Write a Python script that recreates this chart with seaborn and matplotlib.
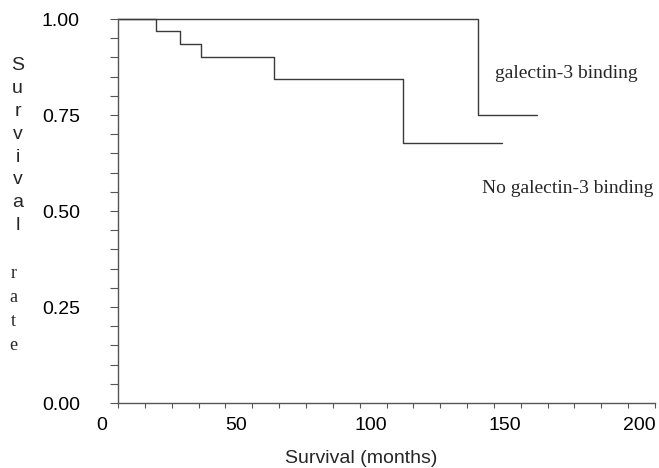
import numpy as np
import pandas as pd
import matplotlib
matplotlib.use("Agg")
import matplotlib.pyplot as plt
import matplotlib.transforms as mtransforms
import seaborn as sns

# values
binding_months = [0, 134, 156]
binding_surv = [1.0, 0.75, 0.75]
nobinding_months = [0, 14, 23, 31, 58, 106, 143]
nobinding_surv = [1.0, 0.968, 0.935, 0.901, 0.845, 0.676, 0.676]
group_names = ["galectin-3 binding", "No galectin-3 binding"]
x_ticks = [0, 50, 100, 150, 200]
y_ticks = [0.00, 0.25, 0.50, 0.75, 1.00]
y_ticklabels = ["0.00", "0.25", "0.50", "0.75", "1.00"]

df = pd.concat([
    pd.DataFrame({"months": binding_months, "surv": binding_surv, "group": group_names[0]}),
    pd.DataFrame({"months": nobinding_months, "surv": nobinding_surv, "group": group_names[1]}),
], ignore_index=True)

sns.set_style("white")
plt.rcParams["font.family"] = ["Liberation Sans", "DejaVu Sans"]

W, H = 659, 468
fig = plt.figure(figsize=(W / 100, H / 100), dpi=100)
ax = fig.add_axes([118 / W, 1 - 403 / H, (655 - 118) / W, (403 - 19) / H])

line_col = "#3a3a3a"
sns.lineplot(
    data=df, x="months", y="surv", hue="group", estimator=None,
    drawstyle="steps-post", palette=[line_col, line_col], legend=False,
    lw=1.0, clip_on=False, ax=ax,
)

ax.set_xlim(0, 200)
ax.set_ylim(0, 1)
ax.set_xticks(x_ticks)
ax.set_xticks(np.arange(0, 201, 10), minor=True)
ax.set_yticks(y_ticks)
ax.set_yticks(np.arange(0, 1.001, 0.05), minor=True)
ax.set_yticklabels(y_ticklabels)
ax.set_xlabel("")
ax.set_ylabel("")

spine_col = "#555555"
sns.despine(ax=ax)
for s in ["left", "bottom"]:
    ax.spines[s].set_color(spine_col)
    ax.spines[s].set_linewidth(1.0)

ax.tick_params(axis="y", which="both", direction="out", left=True, length=5.8,
               width=0.8, color=spine_col, pad=21.6, labelsize=14, labelcolor="black")
ax.tick_params(axis="x", which="both", direction="out", bottom=True, length=3.6,
               width=0.8, color=spine_col, pad=6.5, labelsize=14, labelcolor="black")

# x tick labels sit a little left of their ticks in the original
shift = mtransforms.ScaledTranslation(-16 / 100, 0, fig.dpi_scale_trans)
for tick in ax.xaxis.get_major_ticks():
    tick.label1.set_transform(tick.label1.get_transform() + shift)

# curve labels
serif = ["Liberation Serif", "DejaVu Serif"]
fig.text(495 / W, 1 - 78 / H, "galectin-3 binding", family=serif, fontsize=14,
         ha="left", va="baseline")
fig.text(482 / W, 1 - 193 / H, "No galectin-3 binding", family=serif, fontsize=14,
         ha="left", va="baseline")

# axis titles
fig.text(361 / W, 1 - 463 / H, "Survival (months)", fontsize=14, ha="center", va="baseline")
for i, ch in enumerate("Survival"):
    fig.text(17.5 / W, 1 - (70 + 22.9 * i) / H, ch, fontsize=14, ha="center", va="baseline")
for i, ch in enumerate("rate"):
    fig.text(13.5 / W, 1 - (278 + 24 * i) / H, ch, family=serif, fontsize=13,
             ha="center", va="baseline")

fig.savefig("out.png", dpi=100)
